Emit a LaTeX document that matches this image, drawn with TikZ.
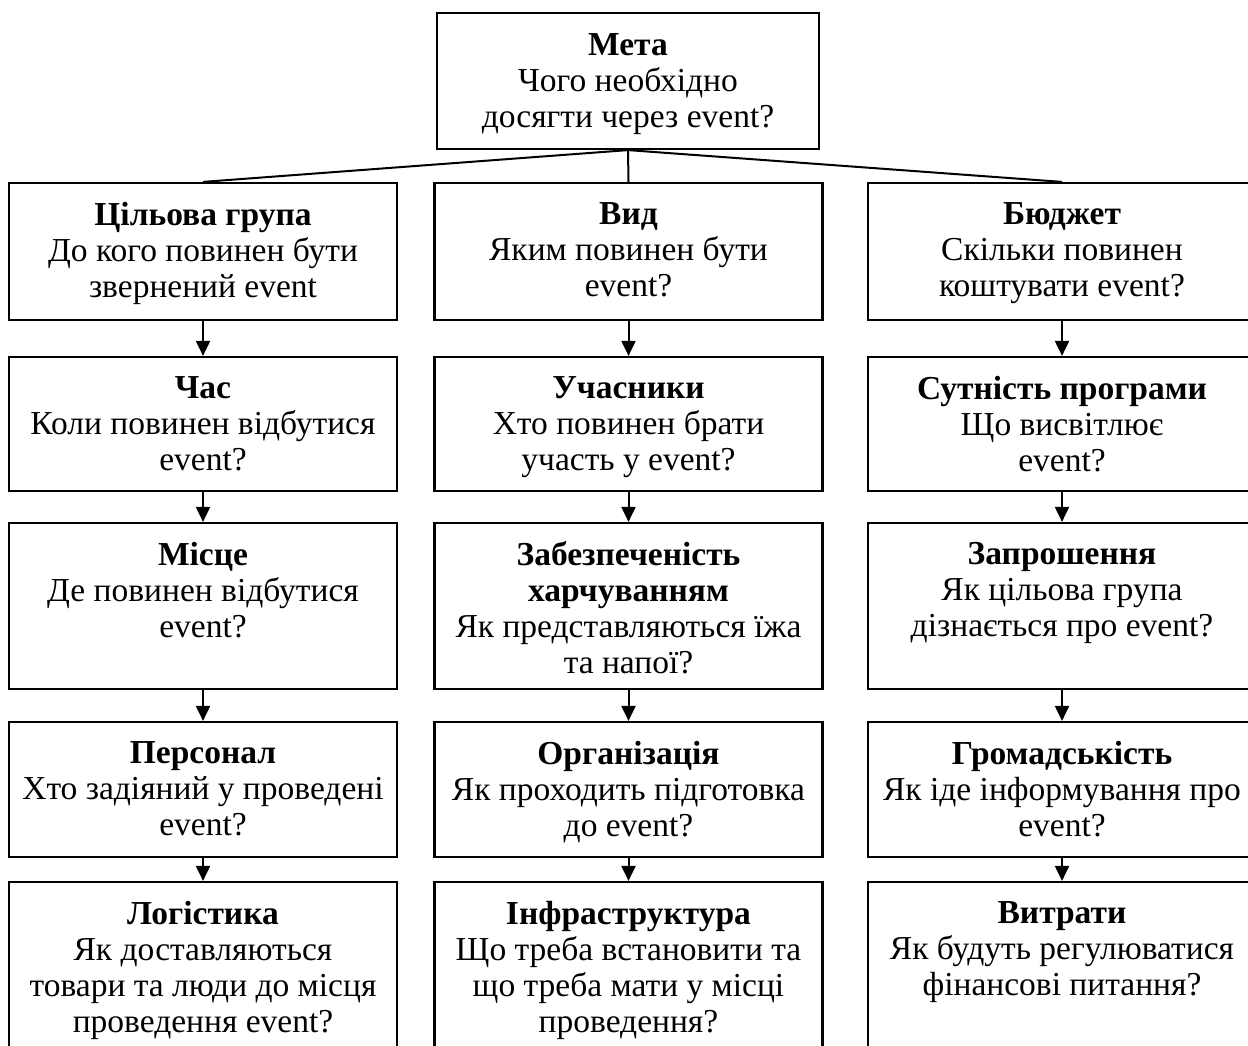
\documentclass[tikz,border=0pt]{standalone}
\usepackage{fontspec}
\setmainfont{Liberation Serif}
\usetikzlibrary{arrows.meta,positioning}
\tikzset{
  box/.style={draw,line width=2.2pt,minimum width=388pt,inner sep=0pt},
  txt/.style={align=center,inner sep=0pt,font=\fontsize{33.5}{36}\selectfont},
  link/.style={line width=2pt},
  arrow/.style={line width=2pt,-{Triangle[length=15pt,width=14pt]}}
}

\begin{document}
\begin{tikzpicture}[x=1pt,y=-1pt]
\path[use as bounding box,clip] (0,0) rectangle (1248,1046);
% top box
\node[box,minimum width=382pt,minimum height=136pt] (goal) at (628,81) {};
\node[txt,below=21pt of goal.north] (goalT) {\textbf{Мета}\\Чого необхідно\\досягти через event?};
% row 1
\node[box,minimum height=137pt] (group) at (203,251.5) {};
\node[box,minimum height=137pt] (kind) at (628.5,251.5) {};
\node[box,minimum height=137pt] (budget) at (1062,251.5) {};
\node[txt,below=20pt of group.north] (groupT) {\textbf{Цільова група}\\До кого повинен бути\\звернений event};
\node[txt,below=20pt of kind.north] (kindT) {\textbf{Вид}\\Яким повинен бути\\event?};
\node[txt,below=20pt of budget.north] (budgetT) {\textbf{Бюджет}\\Скільки повинен\\коштувати event?};
% row 2
\node[box,minimum height=134pt] (time) at (203,424) {};
\node[box,minimum height=134pt] (guests) at (628.5,424) {};
\node[box,minimum height=134pt] (program) at (1062,424) {};
\node[txt,below=20pt of time.north] (timeT) {\textbf{Час}\\Коли повинен відбутися\\event?};
\node[txt,below=20pt of guests.north] (guestsT) {\textbf{Учасники}\\Хто повинен брати\\участь у event?};
\node[txt,below=20pt of program.north] (programT) {\textbf{Сутність програми}\\Що висвітлює\\event?};
% row 3
\node[box,minimum height=166pt] (place) at (203,606) {};
\node[box,minimum height=166pt] (food) at (628.5,606) {};
\node[box,minimum height=166pt] (invite) at (1062,606) {};
\node[txt,below=20pt of place.north] (placeT) {\textbf{Місце}\\Де повинен відбутися\\event?};
\node[txt,below=19pt of food.north] (foodT) {\textbf{Забезпеченість}\\\textbf{харчуванням}\\Як представляються їжа\\та напої?};
\node[txt,below=20pt of invite.north] (inviteT) {\textbf{Запрошення}\\Як цільова група\\дізнається про event?};
% row 4
\node[box,minimum height=135pt] (staff) at (203,789.5) {};
\node[box,minimum height=135pt] (org) at (628.5,789.5) {};
\node[box,minimum height=135pt] (public) at (1062,789.5) {};
\node[txt,below=20pt of staff.north] (staffT) {\textbf{Персонал}\\Хто задіяний у проведені\\event?};
\node[txt,below=20pt of org.north] (orgT) {\textbf{Організація}\\Як проходить підготовка\\до event?};
\node[txt,below=20pt of public.north] (publicT) {\textbf{Громадськість}\\Як іде інформування про\\event?};
% row 5
\node[box,minimum height=200pt] (logist) at (203,982) {};
\node[box,minimum height=200pt] (infra) at (628.5,982) {};
\node[box,minimum height=200pt] (costs) at (1062,982) {};
\node[txt,below=20pt of logist.north] (logistT) {\textbf{Логістика}\\Як доставляються\\товари та люди до місця\\проведення event?};
\node[txt,below=20pt of infra.north] (infraT) {\textbf{Інфраструктура}\\Що треба встановити та\\що треба мати у місці\\проведення?};
\node[txt,below=20pt of costs.north] (costsT) {\textbf{Витрати}\\Як будуть регулюватися\\фінансові питання?};
% connectors
\draw[link] (goal.south) -- (group.north);
\draw[link] (goal.south) -- (kind.north);
\draw[link] (goal.south) -- (budget.north);
\draw[arrow] (group) -- (time);
\draw[arrow] (time) -- (place);
\draw[arrow] (place) -- (staff);
\draw[arrow] (staff) -- (logist);
\draw[arrow] (kind) -- (guests);
\draw[arrow] (guests) -- (food);
\draw[arrow] (food) -- (org);
\draw[arrow] (org) -- (infra);
\draw[arrow] (budget) -- (program);
\draw[arrow] (program) -- (invite);
\draw[arrow] (invite) -- (public);
\draw[arrow] (public) -- (costs);
\end{tikzpicture}
\end{document}
